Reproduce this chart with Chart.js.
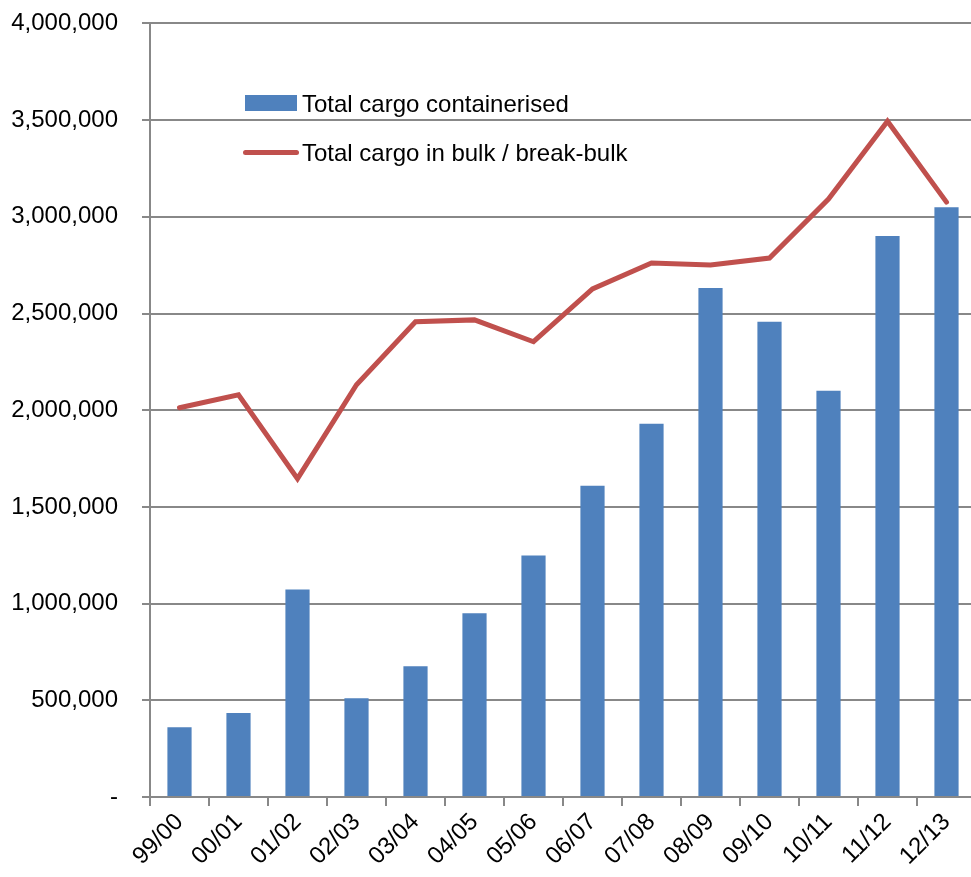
<!DOCTYPE html>
<html>
<head>
<meta charset="utf-8">
<script src="https://cdn.jsdelivr.net/npm/chart.js@4.4.0/dist/chart.umd.min.js"></script>
<style>
  html, body { margin: 0; padding: 0; background: #fff; overflow: hidden; }
  #wrap { position: relative; width: 980px; height: 877px; overflow: hidden; }
  #cargo-chart { position: absolute; left: 0; top: -15px; }
  .legend { position: absolute; font-family: "Liberation Sans", Arial, sans-serif; font-size: 24px; color: #000; white-space: nowrap; }
  .legend .box { position: absolute; left: 0; top: 5px; width: 52px; height: 16px; background: #4F81BD; }
  .legend .line { position: absolute; left: -2px; top: 11px; width: 56px; height: 5px; border-radius: 3px; background: #C0504D; }
  .legend span.txt { position: absolute; left: 57px; top: 0; }
</style>
</head>
<body>
<div id="wrap">
  <canvas id="cargo-chart" width="980" height="892"></canvas>
  <div class="legend" style="left:245px; top:90px;"><div class="box"></div><span class="txt">Total cargo containerised</span></div>
  <div class="legend" style="left:245px; top:139px;"><div class="line"></div><span class="txt">Total cargo in bulk / break-bulk</span></div>
</div>
<script>
const years = ['99/00', '00/01', '01/02', '02/03', '03/04', '04/05', '05/06',
               '06/07', '07/08', '08/09', '09/10', '10/11', '11/12', '12/13'];

const containerised = [361000, 434000, 1073000, 511000, 676000, 950000, 1249000,
                       1610000, 1930000, 2632000, 2457000, 2100000, 2901000, 3050000];

const bulk = [2013000, 2080000, 1646000, 2132000, 2457000, 2467000, 2354000,
              2627000, 2761000, 2751000, 2787000, 3092000, 3494000, 3076000];

const font = { family: '"Liberation Sans", Arial, sans-serif', size: 24 };

new Chart(document.getElementById('cargo-chart'), {
  type: 'bar',
  data: {
    labels: years,
    datasets: [
      {
        type: 'line',
        label: 'Total cargo in bulk / break-bulk',
        data: bulk,
        borderColor: '#C0504D',
        borderWidth: 5,
        pointRadius: 0,
        tension: 0,
        borderCapStyle: 'round',
        order: 0,
      },
      {
        label: 'Total cargo containerised',
        data: containerised,
        backgroundColor: '#4F81BD',
        categoryPercentage: 1,
        barPercentage: 0.41,
        order: 1,
      },
    ],
  },
  options: {
    responsive: false,
    animation: false,
    layout: { padding: { top: 7, right: 4, left: 0, bottom: 0 } },
    plugins: {
      legend: { display: false },
      tooltip: { enabled: false },
    },
    scales: {
      x: {
        offset: true,
        grid: {
          offset: true,
          drawOnChartArea: false,
          drawTicks: true,
          tickLength: 9,
          color: '#888888',
          lineWidth: 2,
        },
        border: { color: '#888888', width: 2 },
        ticks: {
          color: '#000',
          font: font,
          maxRotation: 45,
          minRotation: 45,
          padding: 2,
        },
        afterFit: (scale) => { scale.height = 80; },
      },
      y: {
        min: 0,
        max: 4000000,
        grid: {
          color: '#888888',
          lineWidth: 2,
          tickLength: 8,
        },
        border: { color: '#888888', width: 2 },
        ticks: {
          stepSize: 500000,
          color: '#000',
          font: font,
          padding: 24,
          callback: (v) => v === 0 ? '-' : v.toLocaleString('en-US'),
        },
        afterFit: (scale) => { scale.width = 150; },
      },
    },
  },
});
</script>
</body>
</html>
